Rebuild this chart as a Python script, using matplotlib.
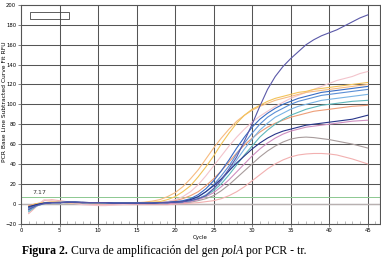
import matplotlib
matplotlib.use("Agg")
import matplotlib.pyplot as plt
from matplotlib.patches import Rectangle

cycles = list(range(1, 46))
x_ticks = [0, 5, 10, 15, 20, 25, 30, 35, 40, 45]
y_ticks = [-20, 0, 20, 40, 60, 80, 100, 120, 140, 160, 180, 200]
threshold = 7.17

purple = [-6, -2, 0, 1, 1, 1.5, 1.5, 1, 1, 1, 1, 0.5, 0.5, 0.5, 0.5, 0.5, 0.5,
          1, 1, 1.5, 2, 3, 5, 8, 15, 24, 35, 47, 63, 80, 98, 115, 128, 138, 146,
          153, 160, 165, 169, 172, 175, 179, 183, 187, 190]
gold = [-3, 0, 1, 1.5, 1.5, 1, 1, 1, 1, 0.5, 0.5, 0.5, 0.5, 0.5, 0.5, 1, 1.5,
        2, 4, 7, 12, 18, 27, 37, 48, 60, 71, 81, 89, 95, 99, 103, 106, 108, 110,
        112, 113, 115, 116, 117, 118, 119, 120, 121, 122]
light_orange = [-5, -1, 1, 1.5, 1.5, 1, 1, 1, 0.5, 0.5, 0.5, 0.5, 0.5, 0.5, 1, 1.5, 2.5,
                4, 7, 11, 17, 25, 34, 45, 56, 66, 75, 83, 89, 94, 98, 101, 104, 106, 108,
                110, 112, 113, 114, 115, 116, 117, 118, 119, 120]
pink_top = [-9, -2, 4, 3, 2, 1, 0, -1, -1.5, -2, -2, -1.5, -1, -0.5, 0, 0, 0.5,
            1, 2, 4, 7, 12, 19, 28, 38, 48, 58, 67, 75, 82, 88, 93, 98, 102, 106,
            109, 112, 115, 118, 121, 124, 126, 128, 131, 133]
blue = [-4, -1, 0.5, 1, 1, 1.5, 1.5, 1, 1, 1, 1, 0.5, 0.5, 0.5, 0.5, 0.5, 0.5,
        1, 1.5, 2, 3, 5, 9, 15, 23, 33, 44, 56, 67, 77, 85, 91, 96, 100, 103,
        106, 108, 110, 112, 113, 114, 115, 116, 117, 118]
blue2 = [-5, -1.5, 0.5, 1, 1.5, 1.5, 1, 1, 1, 1, 0.5, 0.5, 0.5, 0.5, 0.5, 0.5, 0.5,
         1, 1, 1.5, 2, 4, 7, 12, 19, 28, 38, 50, 61, 71, 80, 87, 92, 96, 100,
         103, 105, 107, 109, 110, 111, 112, 113, 114, 115]
light_blue = [-7, -2, 0, 1, 1, 1.5, 1.5, 1, 1, 1, 1, 1, 0.5, 0.5, 0.5, 0.5, 0.5,
              1, 1, 1.5, 2, 3, 5, 9, 15, 23, 33, 44, 55, 65, 74, 81, 87, 91, 95,
              98, 100, 102, 104, 105, 106, 107, 108, 109, 110]
teal = [-8, -2.5, 0, 1, 1, 1, 1.5, 1, 1, 1, 1, 0.5, 0.5, 0.5, 0.5, 0.5, 0.5,
        1, 1, 1.5, 2, 3, 5, 8, 13, 20, 29, 39, 49, 58, 67, 74, 80, 85, 89,
        92, 95, 97, 99, 100, 101, 102, 103, 103.5, 104]
navy = [-3, -1, 0.5, 1, 1, 1.5, 1.5, 1.5, 1, 1, 1, 0.5, 0.5, 0.5, 0.5, 0.5, 0.5,
        1, 1, 1.5, 2, 4, 7, 12, 18, 25, 33, 41, 48, 55, 61, 66, 70, 73, 75,
        77, 79, 80, 81, 82, 83, 84, 85, 87, 89]
salmon = [-2, 0, 1, 1.5, 1.5, 1, 1, 1, 1, 0.5, 0.5, 0.5, 0.5, 0.5, 0.5, 0.5, 1,
          1, 2, 3, 5, 8, 12, 18, 25, 33, 42, 51, 59, 66, 72, 77, 81, 84, 87,
          89, 91, 93, 94, 95, 96, 97, 98, 98.5, 99]
mauve = [-6, -1, 1, 1, 1, 1, 1, 0.5, 0.5, 0.5, 0.5, 0, 0, 0, 0, 0, 0,
         0, 0, 0.5, 1, 2, 4, 7, 11, 17, 24, 32, 40, 48, 55, 61, 66, 70, 73,
         75, 77, 78, 79, 80, 81, 82, 83, 83.5, 84]
gray = [-4, -1, 0.5, 1, 1, 1, 1, 0.5, 0.5, 0.5, 0.5, 0, 0, 0, 0, 0, 0,
        0, 0, 0.5, 1, 1.5, 3, 5, 8, 13, 19, 26, 33, 40, 47, 53, 58, 62, 65,
        66.5, 67, 66.5, 65.5, 64.5, 63, 61.5, 60, 58, 56]
pink_low = [-10, -3, 3, 4, 3, 2, 1, 0, -0.5, -1, -1, -1, -1, -1, -1, -1, -1,
            -1, -1, -0.5, 0, 0.5, 1, 2, 3, 5, 8, 12, 17, 23, 29, 35, 40, 44, 47,
            49, 50, 50.5, 50.5, 50, 49, 47, 45, 42.5, 40]

series = [
    (pink_low, "#f2b0b0"),
    (gray, "#a89c9c"),
    (mauve, "#cf8fc0"),
    (salmon, "#ee9e78"),
    (pink_top, "#f3c4cc"),
    (light_orange, "#f7bb80"),
    (gold, "#f2c35a"),
    (teal, "#5fb8bc"),
    (light_blue, "#7ab4e4"),
    (blue2, "#5b8fd6"),
    (blue, "#3a6cc4"),
    (navy, "#27358a"),
    (purple, "#5a58a8"),
]

fig = plt.figure(figsize=(3.81, 2.62), dpi=100)
ax = fig.add_axes([21 / 381, 38.5 / 262, 359 / 381, 218.5 / 262])
ax.set_xlim(0, 46.6)
ax.set_ylim(-20, 200)

for xv in x_ticks[1:]:
    ax.axvline(xv, color="#555555", lw=0.75, zorder=1)
for yv in y_ticks[1:-1]:
    ax.axhline(yv, color="#555555", lw=0.75, zorder=1)

ax.axhline(0, color="#b8b0b0", lw=1.0, zorder=2)
ax.axhline(threshold, color="#8cc890", lw=0.7, zorder=2)
ax.text(1.5, threshold + 3, "7.17", fontsize=4.5, color="#333333")

for vals, col in series:
    ax.plot(cycles, vals, color=col, lw=0.8, zorder=3)

ax.add_patch(Rectangle((0.025, 0.937), 0.11, 0.03, transform=ax.transAxes,
                       fill=False, edgecolor="#444444", lw=0.6, zorder=4))

ax.set_xticks(x_ticks)
ax.set_yticks(y_ticks)
ax.set_xticks(range(1, 47), minor=True)
ax.tick_params(axis="both", which="major", labelsize=3.8, length=2, width=0.5,
               color="#555555", pad=1.5)
ax.tick_params(axis="x", which="minor", direction="in", length=2, width=0.4,
               color="#888888")
for s in ax.spines.values():
    s.set_color("#555555")
    s.set_linewidth(0.8)

ax.set_xlabel("Cycle", fontsize=4, labelpad=1.5)
fig.text(4.5 / 381, 1 - 102 / 262, "PCR Base Line Subtracted Curve Fit RFU",
         fontsize=4.3, rotation=90, ha="center", va="center")

cap_y = 1 - 254 / 262
t1 = fig.text(22 / 381, cap_y, "Figura 2.", fontsize=8.5, fontweight="bold",
              family="Liberation Serif", va="baseline")
fig.canvas.draw()
bb = t1.get_window_extent()
x_next = (bb.x1 + 3) / fig.bbox.width
t2 = fig.text(x_next, cap_y, "Curva de amplificación del gen ", fontsize=8.5,
              family="Liberation Serif", va="baseline")
bb = t2.get_window_extent()
x_next = (bb.x1) / fig.bbox.width
t3 = fig.text(x_next, cap_y, "polA", fontsize=8.5, style="italic",
              family="Liberation Serif", va="baseline")
bb = t3.get_window_extent()
x_next = (bb.x1 + 2.5) / fig.bbox.width
fig.text(x_next, cap_y, "por PCR - tr.", fontsize=8.5,
         family="Liberation Serif", va="baseline")

fig.savefig("out.png", dpi=100)
